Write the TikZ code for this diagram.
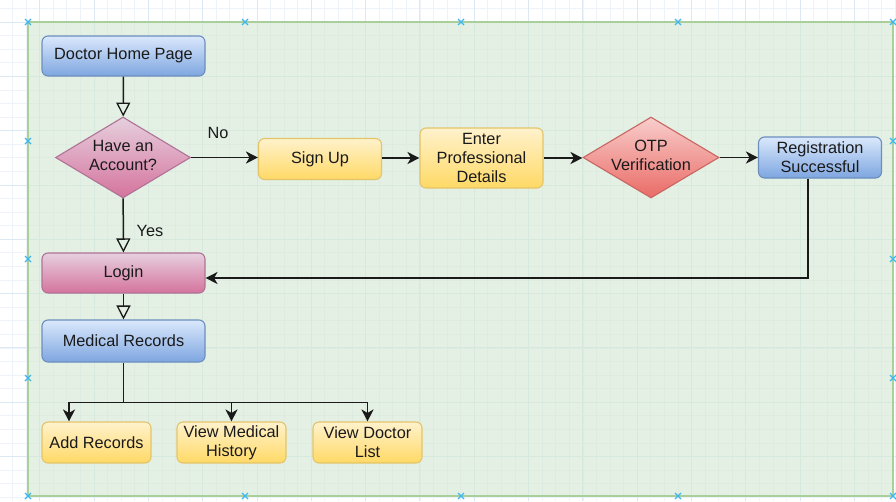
\documentclass[tikz,border=0pt]{standalone}
\usepackage{fontspec}
\setmainfont{Liberation Sans}
\usetikzlibrary{shapes.geometric,arrows.meta,calc}

\definecolor{gridminor}{HTML}{EEF3FA}
\definecolor{gridmajor}{HTML}{DDE8F5}
\definecolor{greenF}{HTML}{D5E8D4}
\definecolor{greenS}{HTML}{A9CF9A}
\definecolor{blueT}{HTML}{DAE8FC}
\definecolor{blueB}{HTML}{7EA6E0}
\definecolor{blueS}{HTML}{6C8EBF}
\definecolor{yelT}{HTML}{FFF2CC}
\definecolor{yelB}{HTML}{FFD966}
\definecolor{yelS}{HTML}{E3C46A}
\definecolor{pinkT}{HTML}{E6D0DE}
\definecolor{pinkB}{HTML}{D5739D}
\definecolor{pinkS}{HTML}{B07296}
\definecolor{redT}{HTML}{F8CECC}
\definecolor{redB}{HTML}{EA6B66}
\definecolor{redS}{HTML}{C96662}
\definecolor{ink}{HTML}{1A1A1A}
\definecolor{mark}{HTML}{3FB6EE}

\tikzset{
  box/.style={rectangle, rounded corners=6pt, draw, line width=1.1pt,
    align=center, inner sep=0pt, text=ink},
  bluebox/.style={box, draw=blueS, top color=blueT, bottom color=blueB},
  yelbox/.style={box, draw=yelS, top color=yelT, bottom color=yelB},
  pinkbox/.style={box, draw=pinkS, top color=pinkT, bottom color=pinkB},
  decision/.style={diamond, aspect=1.67, draw, line width=1.1pt, inner sep=0pt,
    minimum width=135pt, minimum height=81pt},
  dialabel/.style={label={[text=ink, align=center, inner sep=0pt, yshift=2pt]center:#1}},
  pinkdia/.style={decision, draw=pinkS, top color=pinkT, bottom color=pinkB},
  reddia/.style={decision, draw=redS, top color=redT, bottom color=redB},
  flow/.style={draw=ink, line width=1.5pt, -{Stealth[length=12pt,width=12pt,inset=3.5pt]}},
  openflow/.style={draw=ink, line width=1.5pt, -{Triangle[open,length=14pt,width=14pt,line width=1.3pt]}},
  lbl/.style={text=ink, inner sep=0pt},
  selmark/.style={draw=mark, line width=1.1pt},
}

\begin{document}
\begin{tikzpicture}[x=1pt, y=-1pt, font=\fontsize{16.3}{19}\selectfont]
\useasboundingbox (0,0) rectangle (896,501);

% page grid
\fill[white] (0,0) rectangle (896,501);
\begin{scope}
  \clip (0,0) rectangle (896,501);
  \foreach \i in {0,...,66}
    \draw[gridminor, line width=0.8pt] ({12.54+13.58*\i},0) -- ++(0,501);
  \foreach \i in {0,...,37}
    \draw[gridminor, line width=0.8pt] (0,{8.42+13.58*\i}) -- ++(896,0);
  \foreach \i in {0,...,16}
    \draw[gridmajor, line width=0.9pt] ({39.7+54.32*\i},0) -- ++(0,501);
  \foreach \i in {0,...,9}
    \draw[gridmajor, line width=0.9pt] (0,{22+54.32*\i}) -- ++(896,0);
\end{scope}

% container
\draw[draw=greenS, line width=1.2pt, fill=greenF, fill opacity=0.65]
  (28,22) rectangle (893,496);

% selection handles
\foreach \mx/\my in {28/22, 245/22, 461/22, 678/22, 893/22,
                     28/496, 245/496, 461/496, 678/496, 893/496,
                     28/141, 28/259, 28/378, 893/141, 893/259, 893/378}
  \draw[selmark] (\mx-3,\my-3) -- (\mx+3,\my+3) (\mx-3,\my+3) -- (\mx+3,\my-3);

% nodes
\node[bluebox, minimum width=163pt, minimum height=40pt] (home) at (123.5,56) {Doctor Home Page};
\node[pinkdia, dialabel={Have an\\Account?}] (acct) at (123,157.5) {};
\node[yelbox, minimum width=123pt, minimum height=41pt] (signup) at (320,159) {Sign Up};
\node[yelbox, minimum width=123pt, minimum height=60pt] (enter) at (481.5,158) {Enter\\Professional\\Details};
\node[reddia, minimum width=136pt, dialabel={OTP\\Verification}] (otp) at (651,157.5) {};
\node[bluebox, minimum width=123pt, minimum height=41pt] (regok) at (820,157.5) {Registration\\Successful};
\node[pinkbox, minimum width=163pt, minimum height=40pt] (login) at (123.5,273) {Login};
\node[bluebox, minimum width=163pt, minimum height=42pt] (medrec) at (123.5,341) {Medical Records};
\node[yelbox, minimum width=109pt, minimum height=41pt] (addrec) at (96.5,442.5) {Add Records};
\node[yelbox, minimum width=109pt, minimum height=41pt] (hist) at (231.5,442.5) {View Medical\\History};
\node[yelbox, minimum width=109pt, minimum height=41pt] (dlist) at (367.5,442.5) {View Doctor\\List};

\node[lbl] (no) at (218,133) {No};
\node[lbl] (yes) at (150,231) {Yes};

% connectors
\draw[openflow] (home) -- (acct);
\draw[flow] (acct.east) -- (acct.east -| signup.west);
\draw[flow] (signup.east |- enter.west) -- (enter.west);
\draw[flow] (enter.east) -- (enter.east -| otp.west);
\draw[flow] (otp.east) -- (otp.east -| regok.west);
\coordinate (regout) at ($(regok.south)+(-12,0)$);
\coordinate (loginin) at ($(login.east)+(0,5)$);
\draw[flow] (regout) |- (loginin);
\draw[openflow] (acct) -- (login);
\draw[openflow] (login) -- (medrec);

\coordinate (fork) at ($(medrec.south)+(0,40)$);
\coordinate (addin) at ($(addrec.north)+(-27.5,0)$);
\draw[draw=ink, line width=1.5pt] (medrec.south) -- (fork);
\draw[flow] (fork) -| (addin);
\draw[flow] (fork) -| (hist.north);
\draw[flow] (fork) -| (dlist.north);
\end{tikzpicture}
\end{document}
